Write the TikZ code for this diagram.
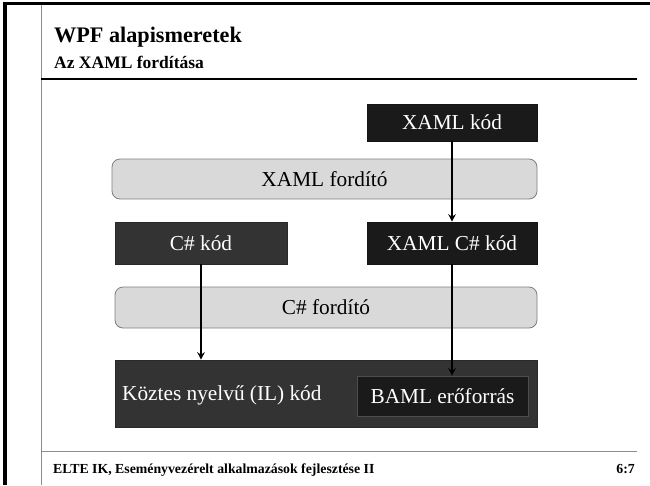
\documentclass[tikz,border=0pt]{standalone}
\usepackage{fontspec}
\setmainfont{Liberation Serif}
\usetikzlibrary{arrows.meta}
\definecolor{boxblack}{HTML}{1A1A1A}
\definecolor{boxdark}{HTML}{333333}
\definecolor{compfill}{HTML}{D9D9D9}
\definecolor{compline}{HTML}{7F7F7F}
\definecolor{rulegray}{HTML}{8C8C8C}
\definecolor{bamlline}{HTML}{4D4D4D}
\tikzset{
  codebox/.style={draw=#1!80!black, line width=0.6pt, fill=#1, text=white, inner sep=0pt,
    font=\fontsize{21.3}{24}\selectfont},
  compiler/.style={draw=compline, line width=0.8pt, fill=compfill, rounded corners=8pt,
    inner sep=0pt, font=\fontsize{21.3}{24}\selectfont},
  flow/.style={line width=1.4pt, -{Stealth[length=7.5pt,width=7.5pt,inset=2.5pt]}},
}
\begin{document}
\begin{tikzpicture}[x=1pt, y=-1pt]
\useasboundingbox (0,0) rectangle (650,485);
% slide frame and rules
\draw[line width=3.5pt] (5,3.5) -- (650,3.5);
\draw[line width=3.5pt] (5,2) -- (5,485);
\draw[rulegray, line width=1pt] (41,5) -- (41,485);
\draw[line width=1.2pt] (41,79) -- (637,79);
\draw[rulegray, line width=1pt] (41,451) -- (637,451);
% header and footer
\node[anchor=base west, inner sep=0pt, font=\fontsize{22.2}{26}\selectfont\bfseries] (title) at (54,42) {WPF alapismeretek};
\node[anchor=base west, inner sep=0pt, font=\fontsize{17.5}{21}\selectfont\bfseries] (subtitle) at (54,68) {Az XAML fordítása};
\node[anchor=base west, inner sep=0pt, font=\fontsize{13.8}{16}\selectfont\bfseries] (footer) at (53,473) {ELTE IK, Eseményvezérelt alkalmazások fejlesztése II};
\node[anchor=base east, inner sep=0pt, font=\fontsize{13.8}{16}\selectfont\bfseries] (page) at (635,473) {6:7};
% compilation pipeline
\node[codebox=boxblack, minimum width=170pt, minimum height=37pt] (xk) at (452,122.5) {XAML kód};
\node[compiler, minimum width=425pt, minimum height=40pt] (xf) at (324.5,179) {XAML fordító};
\node[codebox=boxdark, minimum width=172pt, minimum height=42pt] (ck) at (201,243) {C\# kód};
\node[codebox=boxblack, minimum width=170pt, minimum height=42pt] (xck) at (452,243) {XAML C\# kód};
\node[compiler, minimum width=422pt, minimum height=41pt] (cf) at (326,307.5) {C\# fordító};
\node[codebox=boxdark, minimum width=422pt, minimum height=67pt] (il) at (326,393.5) {};
\node[anchor=base west, inner sep=0pt, text=white, font=\fontsize{21.3}{24}\selectfont] (iltext) at (122,400) {Köztes nyelvű (IL) kód};
\node[codebox=boxblack, draw=bamlline, minimum width=171pt, minimum height=40pt] (baml) at (442.5,396) {BAML erőforrás};
% arrows
\draw[flow] (xk.south) -- (xck.north);
\draw[flow] (ck.south) -- (ck.south |- il.north);
\draw[flow] (xck.south) -- (xck.south |- baml.north);
\end{tikzpicture}
\end{document}
